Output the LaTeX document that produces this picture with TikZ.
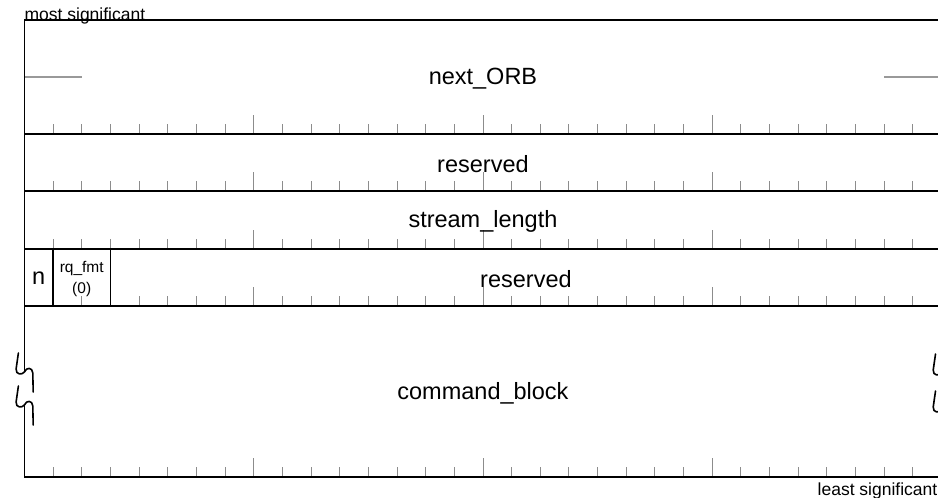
\documentclass[tikz,border=0pt]{standalone}
\usepackage{fontspec}
\setmainfont{Liberation Sans}
\begin{document}
\begin{tikzpicture}[x=1pt,y=-1pt,
  frame/.style={line width=1.6pt, black},
  tickmark/.style={line width=0.9pt, black!45},
  split/.style={line width=1.2pt, black!40},
  brk/.style={line width=1.6pt, black, line cap=round},
  lbl/.style={font=\fontsize{23.5}{28}\selectfont, inner sep=0pt},
  small/.style={font=\fontsize{15.5}{21}\selectfont, inner sep=0pt, align=center},
  corner/.style={font=\fontsize{17.5}{20}\selectfont, inner sep=0pt},
  brkmark/.pic={\draw[brk] (-6,-19) -- (-8.3,-3)
      .. controls (-8.8,3) and (-2,3) .. (0,0)
      .. controls (2,-5) and (8,-5) .. (8.4,1) -- (8.8,20);}]
\useasboundingbox (0,0) rectangle (938,498);
\clip (0,0) rectangle (938,498);

% bit geometry: 32 bits per quadlet
\pgfmathsetmacro\xl{24.4}
\pgfmathsetmacro\ts{28.66}
\pgfmathsetmacro\xr{\xl+32*\ts}

% tick marks rising from each row boundary
\foreach \yb in {134,191,249,306,477} {
  \foreach \k in {1,...,31} {
    \pgfmathsetmacro\tl{mod(\k,8)==0 ? 19 : 10}
    \draw[tickmark] ({\xl+\k*\ts},\yb) -- ++(0,-\tl);
  }
}

% half-quadlet markers in the 64-bit field
\draw[split] (\xl,77) -- ({\xl+2*\ts},77);
\draw[split] ({\xr-2*\ts},77) -- (\xr,77);

% row boundaries
\foreach \yb in {20,134,191,249,306,477}
  \draw[frame] (\xl,\yb) -- (\xr,\yb);

% outer sides, interrupted by break marks
\draw[frame] (\xl,20) -- (\xl,372);
\draw[frame] (\xl,405) -- (\xl,477);
\draw[frame] (\xr,20) -- (\xr,373);
\draw[frame] (\xr,410) -- (\xr,477);
\pic at (\xl,372) {brkmark};
\pic at (\xl,405) {brkmark};
\pic at (\xr,373) {brkmark};
\pic at (\xr,410) {brkmark};

% field dividers in the flags quadlet
\draw[frame] ({\xl+\ts},249) -- ({\xl+\ts},306);
\draw[frame] ({\xl+3*\ts},249) -- ({\xl+3*\ts},306);

% field names
\node[lbl] (next) at ({(\xl+\xr)/2},78.5) {next\_ORB};
\node[lbl] (res1) at ({(\xl+\xr)/2},164) {reserved};
\node[lbl] (len) at ({(\xl+\xr)/2},221.5) {stream\_length};
\node[lbl] (nbit) at ({\xl+0.5*\ts},278.5) {n};
\node[small] (fmt) at ({\xl+2*\ts},278.5) {rq\_fmt\\(0)};
\node[lbl] (res2) at ({(\xl+3*\ts+\xr)/2},279) {reserved};
\node[lbl] (cmd) at ({(\xl+\xr)/2},393) {command\_block};

% significance labels
\node[corner, anchor=base west] (msb) at (\xl,20.5) {most significant};
\node[corner, anchor=base east] (lsb) at (\xr-4,495) {least significant};
\end{tikzpicture}
\end{document}
